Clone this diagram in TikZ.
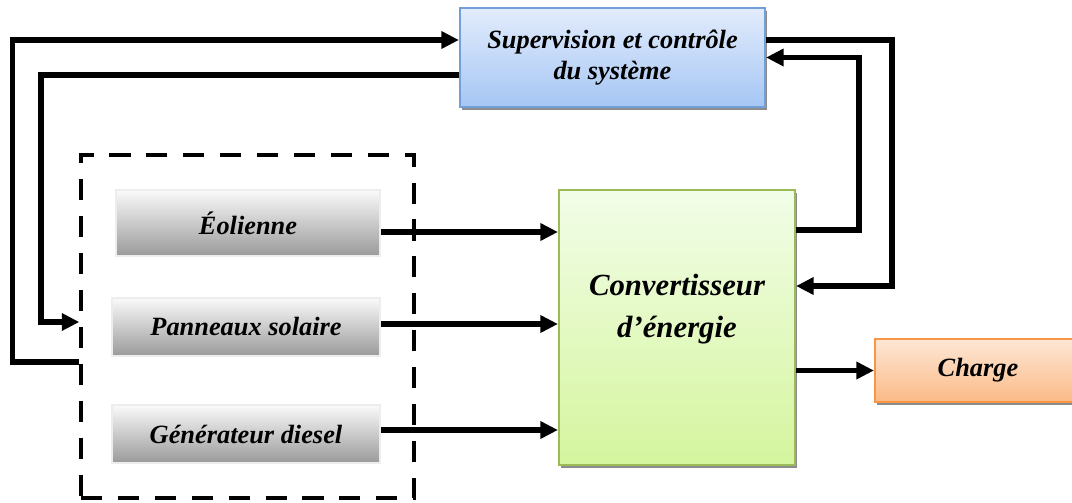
\documentclass[tikz,border=0pt]{standalone}
\usepackage{fontspec}
\setmainfont{Liberation Serif}
\definecolor{supTop}{HTML}{E2ECFC}
\definecolor{supBot}{HTML}{A6C6F4}
\definecolor{supLine}{HTML}{739FD8}
\definecolor{convTop}{HTML}{F2FDE8}
\definecolor{convBot}{HTML}{D5F59E}
\definecolor{convLine}{HTML}{9BBB59}
\definecolor{chTop}{HTML}{FDE7D6}
\definecolor{chBot}{HTML}{FBBA86}
\definecolor{chLine}{HTML}{F79646}
\definecolor{srcTop}{HTML}{FAFAFA}
\definecolor{srcBot}{HTML}{9A9A9A}
\usetikzlibrary{arrows.meta,positioning,calc,shadows}
\tikzset{
  blk/.style={rectangle, align=center, font=\fontsize{15}{18}\selectfont\bfseries\itshape,
    line width=1.2pt, inner sep=2pt},
  blkshadow/.style={drop shadow={shadow xshift=1pt, shadow yshift=-1.8pt, fill=black!45, opacity=1}},
  supbox/.style={blk, blkshadow, draw=supLine, top color=supTop, bottom color=supBot,
    minimum width=6.1cm, minimum height=1.98cm},
  convbox/.style={blk, blkshadow, draw=convLine, top color=convTop, bottom color=convBot,
    minimum width=4.72cm, minimum height=5.5cm},
  loadbox/.style={blk, blkshadow, draw=chLine, top color=chTop, bottom color=chBot,
    minimum width=4.12cm, minimum height=1.26cm},
  srcbox/.style={blk, draw=black!7, line width=1.6pt, top color=srcTop, bottom color=srcBot,
    minimum width=5.36cm, minimum height=1.16cm},
  grpbox/.style={rectangle, draw=black, line width=1.9pt, dash pattern=on 12pt off 9pt,
    minimum width=6.66cm, minimum height=6.86cm},
  flow/.style={-{Triangle[length=10pt,width=9.5pt]}, line width=3pt, line join=miter}
}
\begin{document}
\begin{tikzpicture}
  \clip (0,0) rectangle (21.44,-10.04);
  \node[supbox] (sup) at (12.25,-1.15) {Supervision et contrôle\\du système};
  \node[grpbox] (grp) at (4.95,-6.53) {};
  \node[srcbox,minimum width=5.28cm,minimum height=1.32cm] (eol) at (4.96,-4.46) {Éolienne};
  \node[srcbox] (pan) at (4.92,-6.54) {Panneaux solaire};
  \node[srcbox] (gen) at (4.92,-8.68) {Générateur diesel};
  \node[convbox] (conv) at (13.54,-6.55) {};
  \node[font=\fontsize{17.5}{24}\selectfont\bfseries\itshape,align=center] (convtxt) at ([yshift=0.36cm]conv.center) {Convertisseur\\d’énergie};
  \node[loadbox] (ch) at (19.56,-7.41) {Charge};
  \draw[flow] ([yshift=-0.18cm]eol.east) -- ([yshift=-0.18cm]eol.east -| conv.west);
  \draw[flow] ([yshift=0.06cm]pan.east) -- ([yshift=0.06cm]pan.east -| conv.west);
  \draw[flow] ([yshift=0.08cm]gen.east) -- ([yshift=0.08cm]gen.east -| conv.west);
  \draw[flow] (conv.east |- ch.west) -- (ch.west);
  \draw[flow] ([yshift=0.35cm]sup.east) -- ++(2.52,0) |- ([yshift=0.83cm]conv.east);
  \draw[flow] ([yshift=1.95cm]conv.east) -- ++(1.26,0) |- (sup.east);
  \draw[flow] ([yshift=-0.71cm]grp.west) -- ++(-1.34,0) |- ([yshift=0.35cm]sup.west);
  \draw[flow] ([yshift=-0.35cm]sup.west) -- ++(-8.36,0) |- ([yshift=0.09cm]grp.west);
\end{tikzpicture}
\end{document}
